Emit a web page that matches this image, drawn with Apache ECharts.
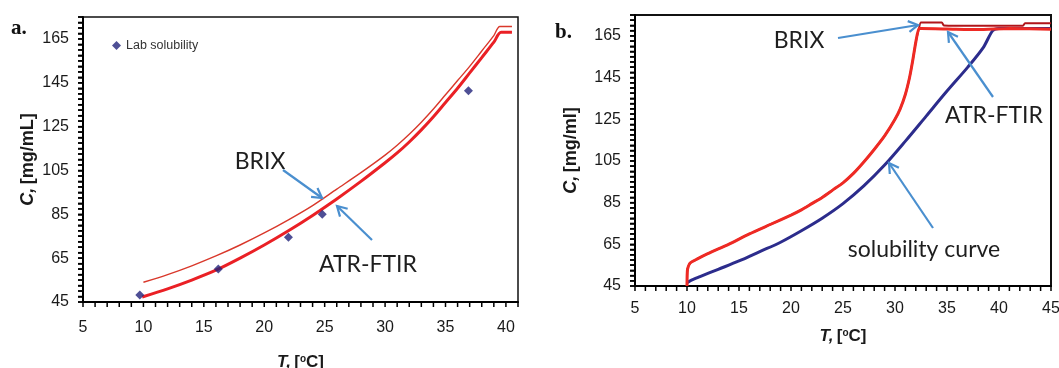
<!DOCTYPE html>
<html>
<head>
<meta charset="utf-8">
<script src="https://cdn.jsdelivr.net/npm/echarts@6/dist/echarts.min.js"></script>
<style>
html,body{margin:0;padding:0;background:#fff;}
#chart{width:1059px;height:368px;background:#fff;}
</style>
</head>
<body>
<div id="chart"></div>
<script>
// ---------- Panel a data ----------
const aBrixT = [10, 12, 14, 16, 18, 20, 22, 24, 26, 28, 30, 31, 32, 33, 34, 35, 36, 37, 38, 39, 39.5, 40.5];
const aBrixC = [54, 57.5, 61.5, 66, 71, 76.5, 82.5, 89, 96.5, 104, 112, 116.5, 121.5, 127, 133, 139.5, 146, 152.5, 159.5, 166.5, 170.7, 170.7];
const aAtrT = [9.9, 12, 14, 16, 18, 20, 22, 24, 26, 28, 30, 31, 32, 33, 34, 35, 36, 37, 38, 39, 39.6, 40.5];
const aAtrC = [47.3, 51, 55, 59.5, 65, 71, 77.5, 84.5, 92, 100, 108.5, 113, 118, 123.5, 129.5, 136, 142.5, 149.5, 156.5, 163.5, 168, 168];
const aLabT = [9.7, 16.2, 22, 24.8, 36.9];
const aLabC = [48.2, 60, 74.5, 85, 141.4];

// ---------- Panel b data ----------
const bRedT = [10, 10.05, 10.3, 11, 12, 14, 16, 18, 20, 21, 22, 23, 24, 25, 26, 27, 28, 29, 30, 30.5, 31, 31.4, 31.7, 32, 32.3];
const bRedC = [45, 53, 56, 58, 60.5, 65, 70, 74.5, 79, 81.5, 84.5, 87.5, 91, 94.5, 99, 104.5, 110.5, 117, 125, 130, 137, 145, 153, 162, 168.5];
const bBrixTopT = [32.5, 34.5, 34.7, 38, 42.3, 42.5, 45];
const bBrixTopC = [171.4, 171.4, 170, 169.8, 169.8, 171, 171];
const bAtrTopT = [32.5, 35, 38, 41, 45];
const bAtrTopC = [168.5, 168.3, 168, 168.5, 168.2];
const bSolT = [10, 10.3, 11.25, 13, 15, 17, 19, 21, 23, 25, 27, 29, 31, 33, 35, 37, 38.5, 39.4, 40, 45];
const bSolC = [46.5, 47.5, 49.5, 53, 57, 61.5, 66, 71.5, 77.5, 84.5, 93, 103, 114.5, 126.5, 138.5, 150, 159.5, 167.5, 168.5, 168.5];

// ---------- tick labels ----------
const yTickLabels = [45, 65, 85, 105, 125, 145, 165];
const aXTickLabels = [5, 10, 15, 20, 25, 30, 35, 40];
const bXTickLabels = [5, 10, 15, 20, 25, 30, 35, 40, 45];

function zip(xs, ys) { return xs.map((x, i) => [x, ys[i]]); }
function near(list, v) { return list.some(t => Math.abs(t - v) < 1e-6); }
function steps(a, b, s) { const r = []; for (let v = a; v <= b + 1e-9; v += s) r.push(Math.round(v * 100) / 100); return r; }

const FONT = 'Liberation Sans, Arial, sans-serif';
const ANNOT_FONT = 'Lato, "Open Sans", sans-serif';
const ARROW = '#4a8fcf';

function xAxis(grid, min, max, labels, nameGap, margin) {
  return {
    gridIndex: grid, type: 'value', min: min, max: max, interval: 1,
    axisLine: { show: true, onZero: false, lineStyle: { color: '#000', width: 2 } },
    axisTick: { show: false },
    splitLine: { show: false },
    axisLabel: {
      margin: margin, fontSize: 16, color: '#1a1a1a', fontFamily: FONT,
      formatter: v => near(labels, v) ? String(Math.round(v)) : ''
    },
    name: '{i|T,} {b|[}{s|o}{b|C]}', nameLocation: 'middle', nameGap: nameGap,
    nameTextStyle: {
      rich: {
        i: { fontSize: 17, fontWeight: 'bold', fontStyle: 'italic', fontFamily: FONT, color: '#1a1a1a' },
        b: { fontSize: 17, fontWeight: 'bold', fontFamily: FONT, color: '#1a1a1a' },
        s: { fontSize: 10, fontWeight: 'bold', fontFamily: FONT, color: '#1a1a1a', verticalAlign: 'top', padding: [0, 0, 7, 0] }
      }
    }
  };
}
function yAxis(grid, unit, nameGap) {
  return {
    gridIndex: grid, type: 'value', min: 45, max: 175, interval: 2.5,
    axisLine: { show: true, onZero: false, lineStyle: { color: '#000', width: 2 } },
    axisTick: { show: true, inside: false, length: 5, lineStyle: { color: '#000', width: 1.5 } },
    splitLine: { show: false },
    axisLabel: {
      margin: 14, fontSize: 16, color: '#1a1a1a', fontFamily: FONT,
      formatter: v => near(yTickLabels, v) ? String(Math.round(v)) : ''
    },
    name: '{i|C,} {b|' + unit + '}', nameLocation: 'middle', nameGap: nameGap, nameRotate: 90,
    nameTextStyle: {
      rich: {
        i: { fontSize: 18, fontWeight: 'bold', fontStyle: 'italic', fontFamily: FONT, color: '#1a1a1a' },
        b: { fontSize: 18, fontWeight: 'bold', fontFamily: FONT, color: '#1a1a1a' }
      }
    }
  };
}

// tick marks drawn through the axes' own scales (api.coord)
function tickSeries(axisIdx, values, horizontal, at) {
  return {
    type: 'custom', coordinateSystem: 'cartesian2d', xAxisIndex: axisIdx, yAxisIndex: axisIdx,
    silent: true, clip: false, z: 10,
    data: values.map(v => horizontal ? [v, at] : [at, v]),
    renderItem: function (params, api) {
      const p = api.coord([api.value(0), api.value(1)]);
      const shape = horizontal
        ? { x1: p[0], y1: p[1], x2: p[0], y2: p[1] + 5 }
        : { x1: p[0] - 5, y1: p[1], x2: p[0], y2: p[1] };
      return { type: 'line', shape: shape, style: { stroke: '#000', lineWidth: 1.5 } };
    }
  };
}

function arrow(x1, y1, x2, y2) {
  const ang = Math.atan2(y2 - y1, x2 - x1);
  const L = 11, A = Math.PI / 6;
  const p1 = [x2 - L * Math.cos(ang - A), y2 - L * Math.sin(ang - A)];
  const p2 = [x2 - L * Math.cos(ang + A), y2 - L * Math.sin(ang + A)];
  return [
    { type: 'line', shape: { x1: x1, y1: y1, x2: x2, y2: y2 }, style: { stroke: ARROW, lineWidth: 2.2 }, z: 100 },
    { type: 'polyline', shape: { points: [p1, [x2, y2], p2] }, style: { stroke: ARROW, lineWidth: 2.2, fill: null }, z: 100 }
  ];
}
function label(text, x, y) {
  return { type: 'text', x: x, y: y, z: 100,
    style: { text: text, font: '400 23px ' + ANNOT_FONT, fill: '#1e1e1e', align: 'center', verticalAlign: 'middle' } };
}

const chart = echarts.init(document.getElementById('chart'));
chart.setOption({
  animation: false,
  grid: [
    { left: 83, top: 17, width: 435, height: 285, show: true, borderColor: '#111', borderWidth: 1.5, outerBoundsMode: 'none', containLabel: false },
    { left: 635, top: 15, width: 416, height: 271, show: true, borderColor: '#111', borderWidth: 2, outerBoundsMode: 'none', containLabel: false }
  ],
  xAxis: [ xAxis(0, 5, 41, aXTickLabels, 52, 18), xAxis(1, 5, 45, bXTickLabels, 42, 15) ],
  yAxis: [ yAxis(0, '[mg/mL]', 46), yAxis(1, '[mg/ml]', 55) ],
  legend: {
    data: ['Lab solubility'], left: 107, top: 34, icon: 'diamond', itemWidth: 9, itemHeight: 9,
    textStyle: { fontSize: 12.5, color: '#333', fontFamily: FONT }
  },
  series: [
    { name: 'BRIX a', type: 'line', xAxisIndex: 0, yAxisIndex: 0, data: zip(aBrixT, aBrixC), smooth: 0.3,
      symbol: 'none', lineStyle: { color: '#d9382b', width: 1.4 } },
    { name: 'ATR-FTIR a', type: 'line', xAxisIndex: 0, yAxisIndex: 0, data: zip(aAtrT, aAtrC), smooth: 0.3,
      symbol: 'none', lineStyle: { color: '#ea2025', width: 3 } },
    { name: 'Lab solubility', type: 'scatter', xAxisIndex: 0, yAxisIndex: 0, data: zip(aLabT, aLabC),
      symbol: 'diamond', symbolSize: 9, itemStyle: { color: '#22237a' }, z: 5 },
    { name: 'solubility curve', type: 'line', xAxisIndex: 1, yAxisIndex: 1, data: zip(bSolT, bSolC), smooth: 0.3,
      symbol: 'none', lineStyle: { color: '#2c2c8c', width: 3 } },
    { name: 'BRIX b', type: 'line', xAxisIndex: 1, yAxisIndex: 1,
      data: zip(bRedT.concat(bBrixTopT), bRedC.concat(bBrixTopC)), smooth: 0.2,
      symbol: 'none', lineStyle: { color: '#b0151a', width: 2 } },
    { name: 'ATR-FTIR b', type: 'line', xAxisIndex: 1, yAxisIndex: 1,
      data: zip(bRedT.concat(bAtrTopT), bRedC.concat(bAtrTopC)), smooth: 0.2,
      symbol: 'none', lineStyle: { color: '#ee2a24', width: 3 } },
    tickSeries(0, steps(5, 41, 1), true, 45),
    tickSeries(0, steps(45, 175, 2.5), false, 5),
    tickSeries(1, steps(5, 45, 1), true, 45),
    tickSeries(1, steps(45, 175, 2.5), false, 5)
  ],
  graphic: [
    { type: 'text', x: 11, y: 18, style: { text: 'a.', font: 'bold 21px "Liberation Serif", serif', fill: '#111' } },
    { type: 'text', x: 555, y: 22, style: { text: 'b.', font: 'bold 21px "Liberation Serif", serif', fill: '#111' } },
    label('BRIX', 260, 162),
    label('ATR-FTIR', 368, 265),
    label('BRIX', 799, 41),
    label('ATR-FTIR', 994, 116),
    label('solubility curve', 924, 250)
  ].concat(
    arrow(283, 170, 322, 198),
    arrow(372, 240, 337, 206),
    arrow(838, 38, 918, 25),
    arrow(993, 97, 948, 32),
    arrow(933, 228, 889, 163)
  )
});
</script>
</body>
</html>
